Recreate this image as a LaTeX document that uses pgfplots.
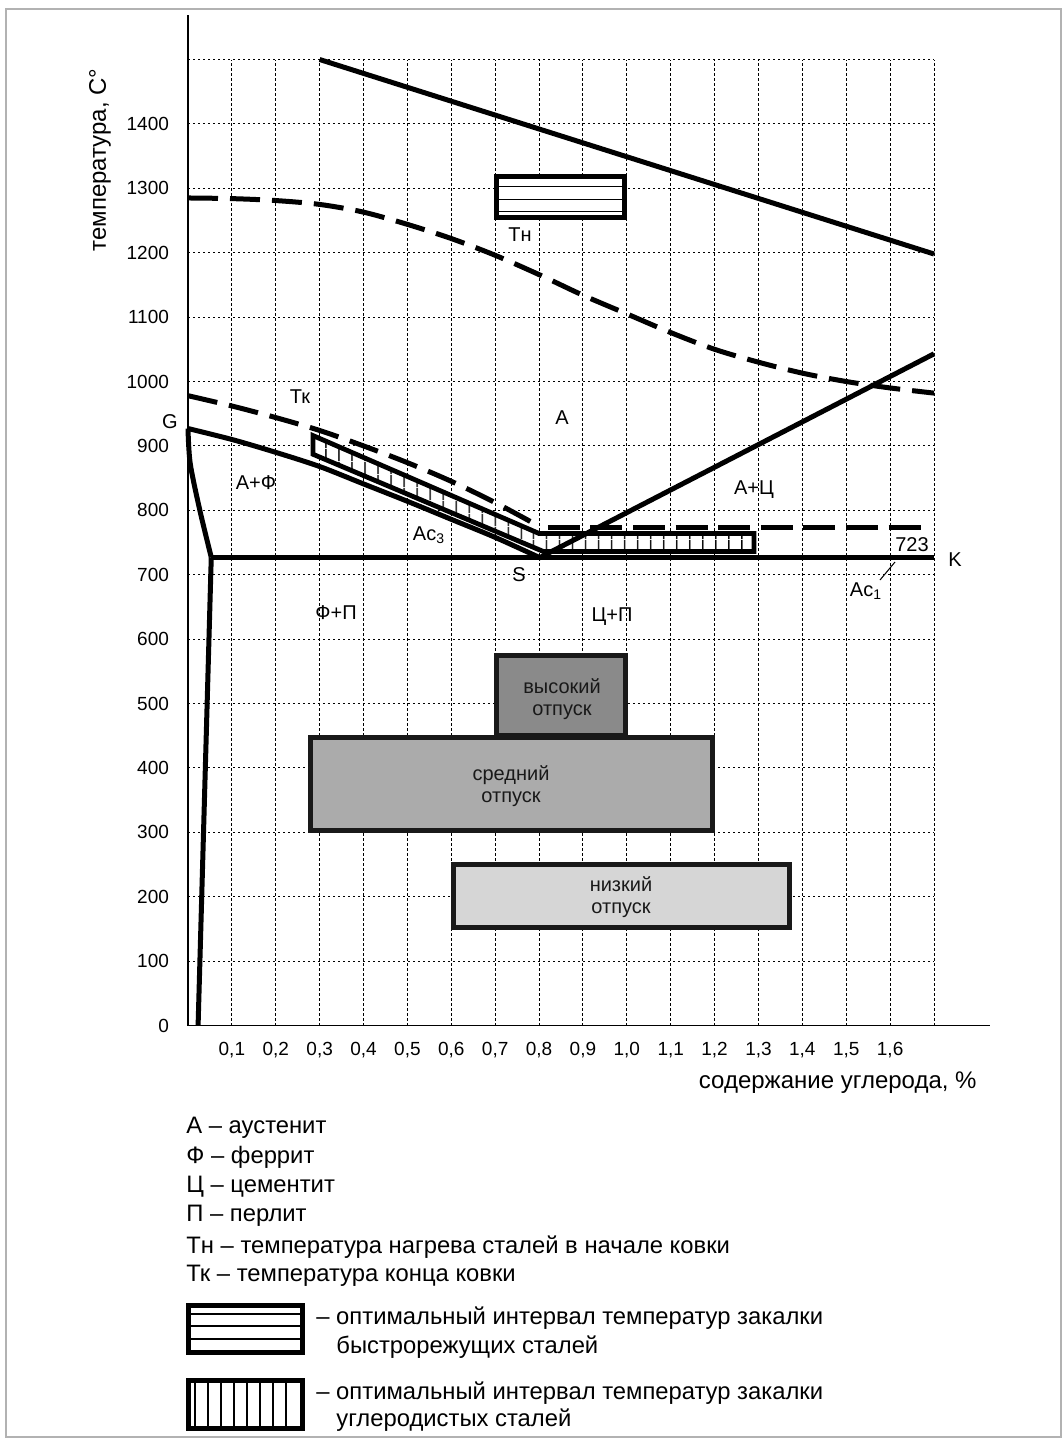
\documentclass[border=0pt]{standalone}
\usepackage{fontspec}
\setmainfont{Liberation Sans}
\usepackage{pgfplots}
\pgfplotsset{compat=1.18}
\usetikzlibrary{patterns.meta}
\definecolor{hiT}{HTML}{8A8A8A}
\definecolor{midT}{HTML}{ABABAB}
\definecolor{loT}{HTML}{D6D6D6}
\begin{document}
\begin{tikzpicture}
\begin{scope}[x=0.5pt,y=-0.5pt]
\path[use as bounding box] (0,0) rectangle (1064,1442);
\end{scope}
\begin{axis}[
  at={(94pt,-512.75pt)}, anchor=south west,
  scale only axis, width=373pt, height=483pt,
  xmin=0, xmax=1.7, ymin=0, ymax=1500,
  axis lines=left,
  axis line style={draw=none},
  clip=false,
  xtick={0.1,0.2,0.3,0.4,0.5,0.6,0.7,0.8,0.9,1.0,1.1,1.2,1.3,1.4,1.5,1.6,1.7},
  xticklabels={{0,1},{0,2},{0,3},{0,4},{0,5},{0,6},{0,7},{0,8},{0,9},{1,0},{1,1},{1,2},{1,3},{1,4},{1,5},{1,6},{}},
  ytick={0,100,200,300,400,500,600,700,800,900,1000,1100,1200,1300,1400,1500},
  yticklabels={0,100,200,300,400,500,600,700,800,900,1000,1100,1200,1300,1400,{}},
  major tick length=0pt,
  grid=major,
  major grid style={black, line width=0.45pt, dash pattern=on 1.2pt off 1.3pt},
  tick label style={font=\fontsize{9.5}{11}\selectfont},
  xticklabel style={yshift=-5pt},
  yticklabel style={xshift=-6pt},
  /pgf/number format/assume math mode=true,
]
% tempering boxes
\addplot[fill=hiT, draw=black!90, line width=2.5pt] coordinates {(0.704,451)(0.996,451)(0.996,574)(0.704,574)} --cycle;
\addplot[fill=midT, draw=black!90, line width=2.5pt] coordinates {(0.28,303)(1.195,303)(1.195,448)(0.28,448)} --cycle;
\addplot[fill=loT, draw=black!90, line width=2.5pt] coordinates {(0.606,152)(1.371,152)(1.371,250)(0.606,250)} --cycle;
% top line
\addplot[line width=2.5pt] coordinates {(0.3,1500)(1.7,1198)};
% Tn dashed
\addplot[line width=2.5pt, dash pattern=on 15pt off 6pt, smooth] coordinates {
(0,1285)(0.1,1284)(0.2,1281)(0.3,1275)(0.4,1263)(0.5,1244)(0.6,1222)(0.7,1196)(0.8,1166)(0.9,1134)(1.0,1105)(1.1,1076)(1.2,1050)(1.3,1030)(1.4,1013)(1.5,1000)(1.6,990)(1.7,982)};
% Tk dashed
\addplot[line width=2.5pt, dash pattern=on 15pt off 6pt, smooth] coordinates {
(0,978)(0.1,962)(0.2,944)(0.3,924)(0.4,900)(0.5,874)(0.6,845)(0.7,812)(0.79,779)};
\addplot[line width=2.5pt, dash pattern=on 16pt off 5.3pt] coordinates {(0.82,773)(1.675,773)};
% Tn box (high speed steels)
\addplot[fill=white, draw=black, line width=2.5pt] coordinates {(0.704,1254)(0.994,1254)(0.994,1318)(0.704,1318)} --cycle;
\addplot[line width=0.6pt] coordinates {(0.704,1303)(0.994,1303)};
\addplot[line width=0.6pt] coordinates {(0.704,1283)(0.994,1283)};
\addplot[line width=0.6pt] coordinates {(0.704,1264)(0.994,1264)};
% carbon steel band
\addplot[fill=white, draw=none] coordinates {(0.285,887)(0.285,916)(0.8,764)(1.29,764)(1.29,736)(0.81,736)} --cycle;
\addplot[draw=black, line width=2.4pt, pattern={Lines[angle=90,distance=6.5pt,line width=0.8pt]}] coordinates {(0.285,887)(0.285,916)(0.8,764)(1.29,764)(1.29,736)(0.81,736)} --cycle;
% phase lines
\addplot[line width=2.5pt, smooth] coordinates {(0,927)(0.1,910)(0.2,890)(0.3,868)(0.4,841)(0.5,814)(0.6,786)(0.7,758)(0.8,727)};
\addplot[line width=2.5pt, smooth] coordinates {(0,927)(0.005,873)(0.027,800)(0.053,727)};
\addplot[line width=2.5pt] coordinates {(0.053,727)(0.023,0)};
\addplot[line width=2.5pt] coordinates {(0.053,726)(1.7,726)};
\addplot[line width=2.5pt] coordinates {(0.8,726)(1.7,1043)};
\end{axis}
\begin{scope}[x=0.5pt,y=-0.5pt, every node/.style={inner sep=0pt, font=\fontsize{10}{12}\selectfont}]
\draw[gray!60, line width=1pt] (6,9) rectangle (1061,1437);
\draw[line width=0.8pt] (188,1025.5) -- (990,1025.5);
\draw[line width=0.8pt] (188,1025.5) -- (188,15);
\node[rotate=90, font=\fontsize{12}{14}\selectfont] at (100,160) {температура, C°};
\node[anchor=east, font=\fontsize{12}{14}\selectfont] at (977,1083) {содержание углерода, \%};
\node at (170,422) {G};
\node at (300,397) {Тк};
\node at (520,235) {Тн};
\node at (562,418) {А};
\node at (256,483) {А+Ф};
\node at (754,490) {А+Ц};
\node at (429,535) {Ас\textsubscript{3}};
\node at (519,575) {S};
\node at (912,545) {723};
\node at (955,560) {K};
\node at (866,591) {Ас\textsubscript{1}};
\draw[line width=0.5pt] (880,580) -- (895,562);
\node at (336,613) {Ф+П};
\node at (612,617) {Ц+П};
\node[align=center, text=black!90, font=\fontsize{10}{11}\selectfont] at (562,699) {высокий\\отпуск};
\node[align=center, text=black!90, font=\fontsize{10}{11}\selectfont] at (511,786) {средний\\отпуск};
\node[align=center, text=black!90, font=\fontsize{10}{11}\selectfont] at (621,897) {низкий\\отпуск};
% legend
\begin{scope}[every node/.style={anchor=west, inner sep=0pt, font=\fontsize{11.9}{13}\selectfont}]
\node at (186,1128) {А – аустенит};
\node at (186,1157) {Ф – феррит};
\node at (186,1187) {Ц – цементит};
\node at (186,1216) {П – перлит};
\node at (186,1247) {Тн – температура нагрева сталей в начале ковки};
\node at (186,1276) {Тк – температура конца ковки};
\node at (316,1318) {– оптимальный интервал температур закалки};
\node at (336,1347) {быстрорежущих сталей};
\node at (316,1393) {– оптимальный интервал температур закалки};
\node at (336,1420) {углеродистых сталей};
\end{scope}
\draw[line width=2.5pt] (188.5,1305.5) rectangle (302.5,1352.5);
\draw[line width=0.6pt] (190,1314) -- (301,1314);
\draw[line width=0.6pt] (190,1326) -- (301,1326);
\draw[line width=0.6pt] (190,1339) -- (301,1339);
\draw[line width=2.5pt] (188.5,1380.5) rectangle (302.5,1428.5);
\foreach \xx in {195,208,221,234,247,260,273,286}
  \draw[line width=0.6pt] (\xx,1382) -- (\xx,1427);
\end{scope}
\end{tikzpicture}
\end{document}
